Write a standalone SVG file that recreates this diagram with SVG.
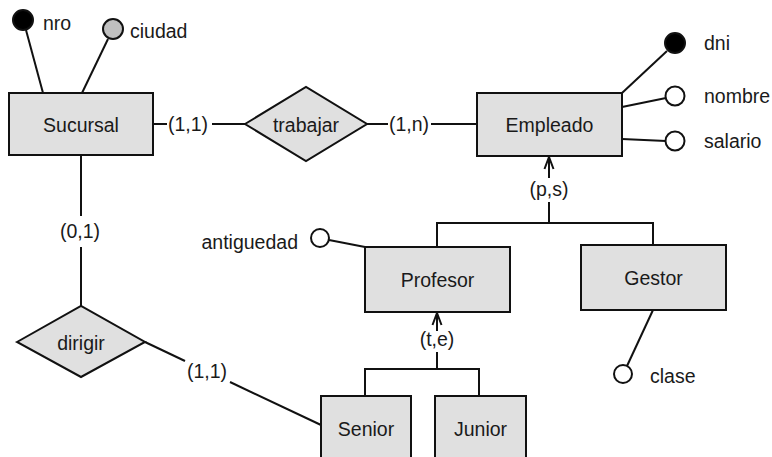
<svg xmlns="http://www.w3.org/2000/svg" width="772" height="457" viewBox="0 0 772 457">
<style>
.ent{fill:#e0e0e0;stroke:#111;stroke-width:2}
.rel{fill:#e0e0e0;stroke:#111;stroke-width:2}
.ln{stroke:#111;stroke-width:2;fill:none}
.t{font-family:"Liberation Sans",Arial,sans-serif;font-size:19.5px;fill:#1a1a1a}
.c{text-anchor:middle}
.key{fill:#000;stroke:#111;stroke-width:2}
.part{fill:#c0c0c0;stroke:#111;stroke-width:2}
.att{fill:#fff;stroke:#111;stroke-width:2}
</style>
<defs>
<marker id="arr" markerUnits="userSpaceOnUse" markerWidth="16" markerHeight="12" viewBox="-14 -6 16 12" refX="0" refY="0" orient="auto">
<path d="M-12,-4.5 L0,0 L-12,4.5" fill="none" stroke="#111" stroke-width="2"/>
</marker>
</defs>
<rect width="772" height="457" fill="#fff"/>
<g id="connectors">
<line class="ln" x1="153" y1="124" x2="167" y2="124"/>
<line class="ln" x1="212" y1="124" x2="245" y2="124"/>
<line class="ln" x1="367" y1="124" x2="388" y2="124"/>
<line class="ln" x1="431" y1="124" x2="477" y2="124"/>
<line class="ln" x1="81" y1="155" x2="81" y2="216"/>
<line class="ln" x1="81" y1="247" x2="81" y2="306"/>
<line class="ln" x1="145" y1="342" x2="185" y2="361"/>
<line class="ln" x1="230" y1="382" x2="321" y2="425"/>
<polyline class="ln" points="437,247 437,223 653,223 653,245"/>
<line class="ln" x1="549" y1="223" x2="549" y2="202"/>
<line class="ln" x1="549" y1="178" x2="549" y2="157" marker-end="url(#arr)"/>
<polyline class="ln" points="365,396 365,369 479,369 479,396"/>
<line class="ln" x1="437" y1="369" x2="437" y2="352"/>
<line class="ln" x1="437" y1="331" x2="437" y2="313" marker-end="url(#arr)"/>
<text class="t c" x="188" y="131">(1,1)</text>
<text class="t c" x="409" y="131">(1,n)</text>
<text class="t c" x="80" y="238">(0,1)</text>
<text class="t c" x="207" y="378">(1,1)</text>
<text class="t c" x="549" y="196">(p,s)</text>
<text class="t c" x="437" y="346">(t,e)</text>
</g>
<g id="Sucursal">
<line class="ln" x1="26" y1="30" x2="43" y2="93"/>
<line class="ln" x1="108" y1="39" x2="82" y2="93"/>
<circle class="key" cx="23" cy="20" r="10"/>
<circle class="part" cx="113" cy="29" r="10"/>
<text class="t" x="43" y="30">nro</text>
<text class="t" x="130" y="38">ciudad</text>
<rect class="ent" x="9" y="93" width="144" height="62"/>
<text class="t c" x="81" y="132">Sucursal</text>
</g>
<g id="trabajar">
<polygon class="rel" points="245,124 306,87 367,124 306,161"/>
<text class="t c" x="306" y="132">trabajar</text>
</g>
<g id="Empleado">
<line class="ln" x1="667" y1="51" x2="622" y2="93"/>
<line class="ln" x1="666" y1="98" x2="622" y2="107"/>
<line class="ln" x1="666" y1="141" x2="622" y2="139"/>
<circle class="key" cx="675" cy="43" r="10"/>
<circle class="att" cx="675" cy="96" r="9.5"/>
<circle class="att" cx="675" cy="141" r="9.5"/>
<text class="t" x="704" y="50">dni</text>
<text class="t" x="704" y="103">nombre</text>
<text class="t" x="704" y="148">salario</text>
<rect class="ent" x="477" y="93" width="145" height="63"/>
<text class="t c" x="549.5" y="132">Empleado</text>
</g>
<g id="Profesor">
<line class="ln" x1="329" y1="240" x2="365" y2="247"/>
<circle class="att" cx="320" cy="238" r="9"/>
<text class="t" x="298" y="249" text-anchor="end">antiguedad</text>
<rect class="ent" x="365" y="247" width="145" height="65"/>
<text class="t c" x="437.5" y="287">Profesor</text>
</g>
<g id="Gestor">
<line class="ln" x1="653" y1="310" x2="627" y2="366"/>
<circle class="att" cx="623" cy="374" r="9"/>
<text class="t" x="650" y="383">clase</text>
<rect class="ent" x="581" y="245" width="145" height="65"/>
<text class="t c" x="653.5" y="285">Gestor</text>
</g>
<g id="dirigir">
<polygon class="rel" points="17,342 81,306 145,342 81,377"/>
<text class="t c" x="81" y="350">dirigir</text>
</g>
<g id="Senior">
<rect class="ent" x="321" y="396" width="90" height="66"/>
<text class="t c" x="366" y="436">Senior</text>
</g>
<g id="Junior">
<rect class="ent" x="435" y="396" width="91" height="66"/>
<text class="t c" x="480.5" y="436">Junior</text>
</g>
</svg>
